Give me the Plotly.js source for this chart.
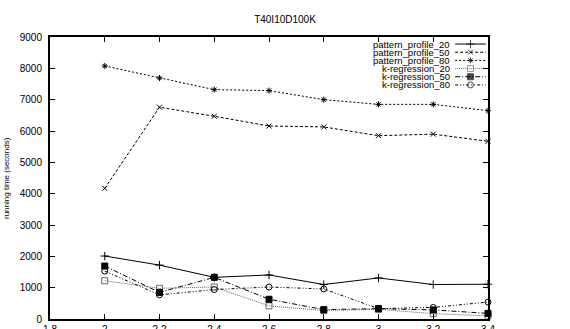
<!DOCTYPE html>
<html>
<head>
<meta charset="utf-8">
<script src="https://cdn.plot.ly/plotly-3.0.1.min.js"></script>
<style>html,body{margin:0;padding:0;background:#fff;}#chart{width:570px;height:329px;}</style>
</head>
<body>
<div id="chart"></div>
<script>
const xValues = [2, 2.2, 2.4, 2.6, 2.8, 3, 3.2, 3.4];
const seriesNames = ["pattern_profile_20", "pattern_profile_50", "pattern_profile_80",
                     "k-regression_20", "k-regression_50", "k-regression_80"];
const patternProfile20 = [2010, 1720, 1330, 1405, 1100, 1310, 1100, 1110];
const patternProfile50 = [4170, 6760, 6470, 6160, 6130, 5850, 5900, 5670];
const patternProfile80 = [8075, 7690, 7320, 7290, 7000, 6850, 6850, 6650];
const kRegression20 = [1220, 980, 1020, 420, 270, 310, 170, 100];
const kRegression50 = [1690, 850, 1330, 630, 300, 330, 290, 180];
const kRegression80 = [1530, 770, 940, 1020, 960, 330, 370, 540];
const xTickValues = [1.8, 2, 2.2, 2.4, 2.6, 2.8, 3, 3.2, 3.4];
const yTickValues = [0, 1000, 2000, 3000, 4000, 5000, 6000, 7000, 8000, 9000];
const yTitle = "running time (seconds)";
const chartTitle = "T40I10D100K";

const seriesData = [patternProfile20, patternProfile50, patternProfile80, kRegression20, kRegression50, kRegression80];
const styles = [
  {dash: "solid", color: "#000", symbol: "cross-thin-open", size: 6},
  {dash: "3px,2px", color: "#000", symbol: "x-thin-open", size: 5},
  {dash: "2px,2px", color: "#000", symbol: "asterisk-open", size: 5},
  {dash: "1px,1px", color: "#666", symbol: "square-open", size: 6},
  {dash: "5px,2px,1px,2px", color: "#000", symbol: "square", size: 6},
  {dash: "3px,2px,1px,2px,1px,2px", color: "#000", symbol: "circle-open", size: 6}
];
const FONT = "Liberation Sans, Arial, sans-serif";

const traces = [];
seriesData.forEach((ys, i) => {
  const s = styles[i];
  traces.push({
    x: xValues, y: ys, type: "scatter", mode: "lines+markers", name: seriesNames[i],
    line: {color: s.color, width: 1, dash: s.dash},
    marker: {symbol: s.symbol, size: s.size, color: s.color, line: {color: s.color, width: 1}},
    showlegend: false, cliponaxis: false
  });
});

const annotations = [];
const legTop = 0.975, legStep = 0.029;
seriesNames.forEach((name, i) => {
  const s = styles[i];
  const yk = legTop - i * legStep;
  traces.push({
    x: [0.925, 0.96, 0.995], y: [yk, yk, yk], xaxis: "x2", yaxis: "y2",
    type: "scatter", mode: "lines+markers", showlegend: false, hoverinfo: "skip",
    line: {color: s.color, width: 1, dash: s.dash},
    marker: {symbol: s.symbol, size: [0, s.size, 0], color: s.color, line: {color: s.color, width: 1}}
  });
  annotations.push({
    xref: "x2", yref: "y2", x: 0.918, y: yk, text: name, showarrow: false,
    xanchor: "right", yanchor: "middle",
    font: {family: FONT, size: 9.5, color: "#000"}
  });
});
annotations.push({
  xref: "paper", yref: "paper", x: -44 / 438, y: 0.5, text: yTitle, showarrow: false,
  textangle: -90, xanchor: "center", yanchor: "middle",
  font: {family: FONT, size: 8, color: "#000"}
});

const layout = {
  width: 570, height: 329,
  margin: {l: 50, r: 82, t: 37, b: 10},
  paper_bgcolor: "#fff", plot_bgcolor: "#fff",
  showlegend: false,
  font: {family: FONT, size: 10, color: "#000"},
  title: {text: chartTitle, font: {size: 10, color: "#000"}, x: 0.5, xref: "container",
          y: 0.94, yref: "container", yanchor: "middle"},
  xaxis: {
    range: [1.8, 3.4], tickvals: xTickValues, ticktext: xTickValues.map(String),
    ticks: "inside", ticklen: 5, tickcolor: "#000", showgrid: false, zeroline: false,
    showline: true, linecolor: "#000", linewidth: 2, mirror: "ticks",
    tickfont: {size: 10}
  },
  yaxis: {
    range: [0, 9000], tickvals: yTickValues, ticktext: yTickValues.map(String),
    ticks: "inside", ticklen: 5, tickcolor: "#000", showgrid: false, zeroline: false,
    showline: true, linecolor: "#000", linewidth: 2, mirror: "ticks",
    tickfont: {size: 10}, ticklabelstandoff: 4
  },
  xaxis2: {overlaying: "x", range: [0, 1], visible: false, fixedrange: true},
  yaxis2: {overlaying: "y", range: [0, 1], visible: false, fixedrange: true},
  annotations: annotations
};

Plotly.newPlot("chart", traces, layout, {displayModeBar: false, staticPlot: true});
</script>
</body>
</html>
